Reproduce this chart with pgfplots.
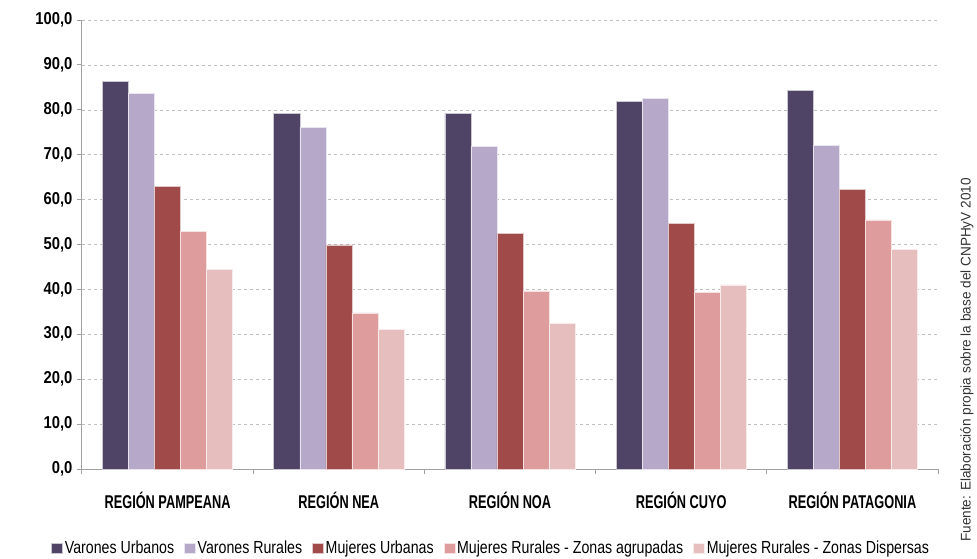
\documentclass[border=0pt]{standalone}
\usepackage{fontspec}
\setmainfont{Liberation Sans}[FakeStretch=0.82]
\newfontfamily\tickfont{Liberation Sans}[FakeStretch=0.86]
\newfontfamily\catfont{Liberation Sans}[FakeStretch=0.69]
\newfontfamily\legfont{Liberation Sans}[FakeStretch=0.81]
\newfontfamily\srcfont{Liberation Sans}[FakeStretch=0.97]
\usepackage{pgfplots}
\pgfplotsset{compat=1.18}
\usepackage{pgfplotstable}
\usetikzlibrary{calc}
\definecolor{cVU}{HTML}{4F4466}
\definecolor{cVR}{HTML}{B5A8C8}
\definecolor{cMU}{HTML}{A04B4A}
\definecolor{cMA}{HTML}{DE9D9C}
\definecolor{cMD}{HTML}{E6BEBE}
\definecolor{axg}{HTML}{A0A0A0}
\pgfplotstableread{
x VU VR MU MA MD
0 86.4 83.7 62.9 52.9 44.5
1 79.2 76.1 49.9 34.8 31.1
2 79.2 71.8 52.5 39.7 32.5
3 81.9 82.6 54.7 39.3 41.0
4 84.4 72.1 62.2 55.5 48.9
}\datatable
\begin{document}
\begin{tikzpicture}[x=1pt,y=1pt]
\begin{axis}[
  scale only axis,
  width=856pt, height=449pt,
  ybar=0pt, bar width=0.152,
  xmin=-0.5, xmax=4.5,
  ymin=0, ymax=100,
  ytick={0,10,...,100},
  xtick={0,1,2,3,4},
  xticklabels={REGIÓN PAMPEANA,REGIÓN NEA,REGIÓN NOA,REGIÓN CUYO,REGIÓN PATAGONIA},
  minor xtick={-0.5,0.5,1.5,2.5,3.5,4.5},
  axis x line*=bottom, axis y line*=left,
  axis line style={axg, line width=1pt},
  x axis line style={-}, y axis line style={-},
  major x tick style={draw=none},
  minor x tick style={axg, line width=1pt},
  minor tick length=5pt,
  major tick length=5pt,
  y tick style={axg, line width=1pt},
  tick align=outside,
  ymajorgrids,
  grid style={dashed, gray!50, line width=0.6pt},
  /pgf/number format/assume math mode=true,
  yticklabel style={/pgf/number format/.cd, fixed, fixed zerofill, precision=1, use comma, /tikz/.cd, font=\tickfont\fontsize{17.2}{17}\selectfont\bfseries, xshift=-1pt},
  xticklabel style={font=\catfont\fontsize{18.5}{18}\selectfont\bfseries, yshift=-15pt},
  legend style={at={(0.478,-0.155)}, anchor=north, draw=none, font=\legfont\fontsize{17.5}{17}\selectfont, legend columns=-1, column sep=0pt, inner sep=0pt},
  legend image code/.code={\fill[#1] (0pt,-5pt) rectangle (11pt,5pt);},
  /tikz/every odd column/.append style={column sep=0pt},
  /tikz/every even column/.append style={column sep=8pt},
]
\addplot[fill=cVU, draw=white!70!cVU, line width=0.5pt] table[x=x,y=VU]{\datatable};
\addplot[fill=cVR, draw=white!70!cVR, line width=0.5pt] table[x=x,y=VR]{\datatable};
\addplot[fill=cMU, draw=white!70!cMU, line width=0.5pt] table[x=x,y=MU]{\datatable};
\addplot[fill=cMA, draw=white!70!cMA, line width=0.5pt] table[x=x,y=MA]{\datatable};
\addplot[fill=cMD, draw=white!70!cMD, line width=0.5pt] table[x=x,y=MD]{\datatable};
\legend{Varones Urbanos,Varones Rurales,Mujeres Urbanas,Mujeres Rurales - Zonas agrupadas,Mujeres Rurales - Zonas Dispersas}
\coordinate (o) at (rel axis cs:0,0);
\end{axis}
\path[use as bounding box] (o) ++(-82pt,-89pt) rectangle ++(977pt,558pt);
\node[rotate=90, anchor=center, font=\srcfont\fontsize{14}{14}\selectfont, text=black!80] at ($(o)+(885pt,109pt)$) {Fuente: Elaboración propia sobre la base del CNPHyV 2010};
\end{tikzpicture}
\end{document}
